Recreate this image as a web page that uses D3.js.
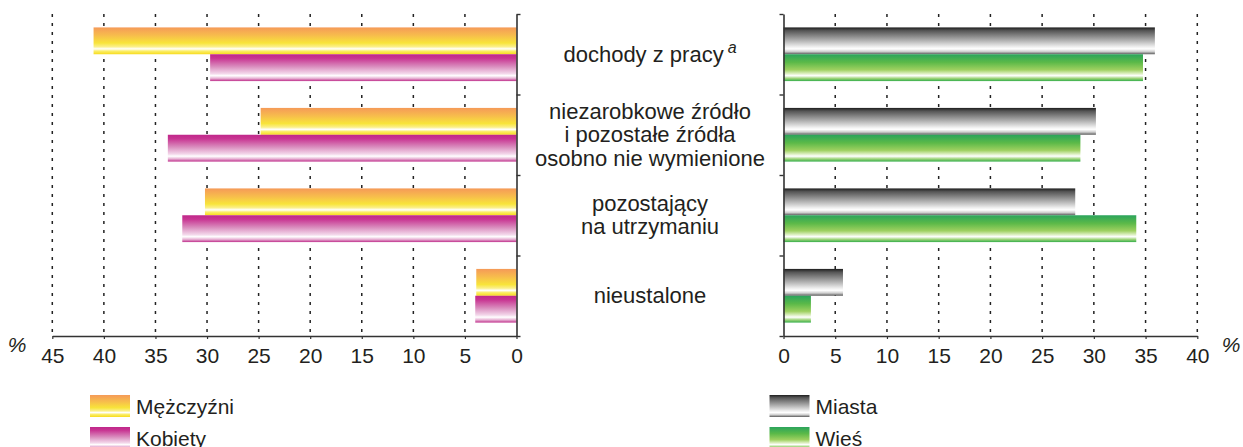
<html lang="pl">
<head>
<meta charset="UTF-8">
<script src="https://d3js.org/d3.v7.min.js"></script>
<style>
  body { margin: 0; background: #fff; }
  svg text { font-family: "Liberation Sans", Arial, sans-serif; fill: #231f20; }
</style>
</head>
<body>
<div id="chart"></div>
<script>

// categories (top to bottom)
const categories = ["dochody z pracy", "niezarobkowe", "pozostający", "nieustalone"];
const categoryLines = [
  ["dochody z pracy"],
  ["niezarobkowe źródło", "i pozostałe źródła", "osobno nie wymienione"],
  ["pozostający", "na utrzymaniu"],
  ["nieustalone"]
];

// left panel: by sex (%)
const sexSeries = ["Mężczyźni", "Kobiety"];
const men   = [41.0, 24.8, 30.2, 3.9];
const women = [29.7, 33.8, 32.4, 4.0];

// right panel: by place (%)
const placeSeries = ["Miasta", "Wieś"];
const towns = [35.9, 30.2, 28.2, 5.75];
const rural = [34.75, 28.7, 34.1, 2.65];

const leftTicks  = [45, 40, 35, 30, 25, 20, 15, 10, 5, 0];
const rightTicks = [0, 5, 10, 15, 20, 25, 30, 35, 40];

const W = 1243, H = 447;
const plotTop = 14, plotBottom = 336;

const svg = d3.select("#chart").append("svg")
  .attr("width", W)
  .attr("height", H);

// gradients
const defs = svg.append("defs");
const grads = {
  "Mężczyźni": [[0, "#f59a58"], [0.3, "#f7bd4c"], [0.58, "#f8e43a"], [0.72, "#fbf08a"], [0.8, "#ffffff"], [0.88, "#fbee6a"], [1, "#f7dc1c"]],
  "Kobiety":   [[0, "#c0278a"], [0.15, "#c83592"], [0.45, "#d98bbd"], [0.72, "#f3d7ea"], [0.8, "#ffffff"], [0.9, "#e7b2d4"], [1, "#c0308c"]],
  "Miasta":    [[0, "#1e1e1e"], [0.12, "#555555"], [0.45, "#a8a8a8"], [0.72, "#eeeeee"], [0.8, "#ffffff"], [0.9, "#cfcfcf"], [1, "#5a5a5a"]],
  "Wieś":      [[0, "#2ba45c"], [0.3, "#5bb948"], [0.58, "#9ed060"], [0.72, "#dcefc0"], [0.8, "#ffffff"], [0.9, "#9fd47a"], [1, "#35ae4a"]]
};
const gradId = name => "g" + Object.keys(grads).indexOf(name);
Object.keys(grads).forEach(name => {
  const g = defs.append("linearGradient")
    .attr("id", gradId(name))
    .attr("x1", 0).attr("y1", 0).attr("x2", 0).attr("y2", 1);
  grads[name].forEach(s => g.append("stop").attr("offset", s[0]).attr("stop-color", s[1]));
});

const y = d3.scaleBand().domain(categories).range([plotTop, plotBottom]);
const yEdge = d3.scaleLinear().domain([0, 4]).range([plotTop, plotBottom]);

function panel(x0, x1, maxV, ticks, series, values, side) {
  const x = d3.scaleLinear().domain([0, maxV]).range([x0, x1]);
  const sub = d3.scaleBand().domain(series).range([0, y.bandwidth()]).paddingOuter(0.5);
  const g = svg.append("g");

  // dashed grid
  g.append("g").selectAll("line")
    .data(ticks.filter(t => t !== 0))
    .join("line")
      .attr("x1", d => x(d)).attr("x2", d => x(d))
      .attr("y1", plotTop).attr("y2", plotBottom)
      .attr("stroke", "#222")
      .attr("stroke-width", 1.5)
      .attr("stroke-dasharray", "3,6");

  // bars
  series.forEach((s, i) => {
    g.append("g").selectAll("rect")
      .data(values[i])
      .join("rect")
        .attr("x", d => Math.min(x(0), x(d)))
        .attr("y", (d, j) => y(categories[j]) + sub(s))
        .attr("width", d => Math.abs(x(d) - x(0)))
        .attr("height", sub.bandwidth())
        .attr("fill", "url(#" + gradId(s) + ")");
  });

  // bottom axis
  const ax = g.append("g")
    .attr("transform", `translate(0,${plotBottom})`)
    .call(d3.axisBottom(x).tickValues(ticks).tickSize(3).tickPadding(9).tickSizeOuter(0));
  ax.select(".domain").attr("stroke", "#333").attr("stroke-width", 1.6);
  ax.selectAll(".tick line").attr("stroke", "#333").attr("stroke-width", 1.2);
  ax.selectAll("text").style("font-size", "21px").attr("fill", "#231f20");

  // category axis at zero
  const ay = g.append("g")
    .attr("transform", `translate(${x(0)},0)`)
    .call((side === "left" ? d3.axisRight(yEdge) : d3.axisLeft(yEdge))
      .tickValues([0, 1, 2, 3, 4]).tickSize(4).tickSizeOuter(0).tickFormat(""));
  ay.select(".domain").attr("stroke", "#333").attr("stroke-width", 1.6);
  ay.selectAll(".tick line").attr("stroke", "#333").attr("stroke-width", 1.4);

  return x;
}

panel(516.5, 52.3, 45, leftTicks, sexSeries, [men, women], "left");
panel(783.5, 1197.3, 40, rightTicks, placeSeries, [towns, rural], "right");

// % labels
svg.append("text").attr("x", 17).attr("y", 352).attr("text-anchor", "middle")
  .style("font-size", "21px").style("font-style", "italic").text("%");
svg.append("text").attr("x", 1231).attr("y", 352).attr("text-anchor", "middle")
  .style("font-size", "21px").style("font-style", "italic").text("%");

// category labels in the middle
const lineH = 23.3;
categoryLines.forEach((lines, i) => {
  const cy = y(categories[i]) + y.bandwidth() / 2;
  const t = svg.append("text")
    .attr("text-anchor", "middle")
    .style("font-size", "22px");
  lines.forEach((l, k) => {
    t.append("tspan")
      .attr("x", 650)
      .attr("y", cy + 7.5 + (k - (lines.length - 1) / 2) * lineH)
      .text(l);
  });
  if (i === 0) {
    t.append("tspan").attr("dx", 4).attr("dy", -9)
      .style("font-size", "16px").style("font-style", "italic").text("a");
  }
});

// legends
function legend(x, series) {
  series.forEach((s, i) => {
    svg.append("rect")
      .attr("x", x).attr("y", 395 + i * 32)
      .attr("width", 40).attr("height", 22)
      .attr("fill", "url(#" + gradId(s) + ")");
    svg.append("text")
      .attr("x", x + 46).attr("y", 414 + i * 32)
      .style("font-size", "21px")
      .text(s);
  });
}
legend(90, sexSeries);
legend(769.5, placeSeries);

</script>
</body>
</html>
